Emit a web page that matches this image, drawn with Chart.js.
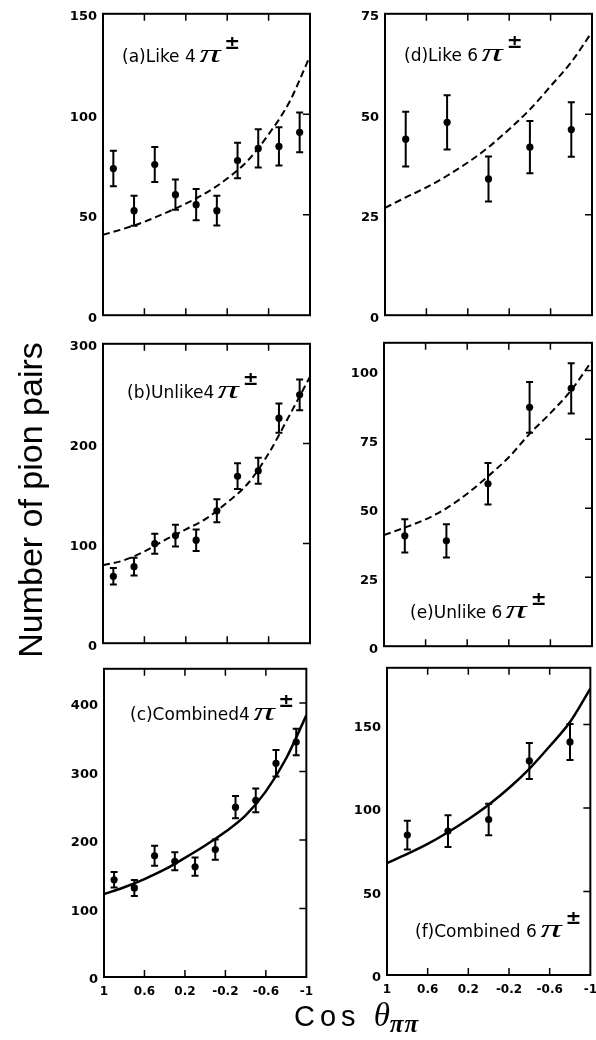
<!DOCTYPE html>
<html>
<head>
<meta charset="utf-8">
<script src="https://cdn.jsdelivr.net/npm/chart.js@4.4.1/dist/chart.umd.min.js"></script>
<style>
html, body { margin: 0; padding: 0; background: #fff; width: 596px; height: 1040px; overflow: hidden; }
#page { position: relative; width: 596px; height: 1040px; }
canvas { position: absolute; }
.lbl { position: absolute; font-family: "DejaVu Sans"; font-size: 17px; line-height: 17px; white-space: nowrap; color: #000; }
.lbl .pi { display: inline-block; font-family: "Liberation Serif"; font-style: italic; font-size: 25px; transform: scaleX(1.7); margin: 0 8px 0 8px; }
.lbl .pm { position: relative; top: -13px; font-size: 19px; font-weight: bold; }
#ytitle { position: absolute; left: 30px; top: 500px; transform: translate(-50%, -50%) rotate(-90deg);
  font-family: "Liberation Sans"; font-size: 34px; white-space: nowrap; color: #000; }
#xtitle { position: absolute; left: 294px; top: 997px; font-family: "Liberation Sans"; font-size: 29px;
  letter-spacing: 5px; white-space: nowrap; color: #000; }
#xtitle .th { font-family: "Liberation Serif"; font-style: italic; font-size: 33px; letter-spacing: 0; }
#xtitle sub { font-family: "Liberation Serif"; font-style: italic; font-weight: bold; font-size: 25px; letter-spacing: 1px; vertical-align: -6px; }
</style>
</head>
<body>
<div id="page">
  <div id="ytitle">Number of pion pairs</div>
  <div id="xtitle">Cos <span class="th">θ</span><sub>ππ</sub></div>
  <div class="lbl" style="left:122px;top:45px">(a)Like 4<span class="pi">π</span><span class="pm">±</span></div>
  <div class="lbl" style="left:404px;top:44px">(d)Like 6<span class="pi">π</span><span class="pm">±</span></div>
  <div class="lbl" style="left:127px;top:381px">(b)Unlike4<span class="pi">π</span><span class="pm">±</span></div>
  <div class="lbl" style="left:410px;top:601px">(e)Unlike 6<span class="pi">π</span><span class="pm">±</span></div>
  <div class="lbl" style="left:130px;top:703px">(c)Combined4<span class="pi">π</span><span class="pm">±</span></div>
  <div class="lbl" style="left:415px;top:920px">(f)Combined 6<span class="pi">π</span><span class="pm">±</span></div>
</div>
<script>
// bin centres (cos theta), fit sample positions and x tick labels
const binsFine = [0.9, 0.7, 0.5, 0.3, 0.1, -0.1, -0.3, -0.5, -0.7, -0.9];
const binsCoarse = [0.8, 0.4, 0, -0.4, -0.8];
const fitX = [1, 0.8, 0.6, 0.4, 0.2, 0, -0.2, -0.4, -0.6, -0.8, -1];
const xTicks = [1, 0.6, 0.2, -0.2, -0.6, -1];
const xTickLabels = ['1', '0.6', '0.2', '-0.2', '-0.6', '-1'];

// (a) like 4pi
const like4Vals = [73, 52, 75, 60, 55, 52, 77, 83, 84, 91];
const like4Err = [8.8, 7.5, 8.7, 7.5, 7.8, 7.4, 8.8, 9.5, 9.5, 9.9];
const like4Fit = [40, 43, 46.5, 50.8, 55.5, 61, 68, 77, 90, 106, 129];
const like4Ticks = [0, 50, 100, 150];

// (b) unlike 4pi
const unlike4Vals = [67, 76.7, 99.7, 107.8, 103.2, 132.7, 167.3, 172.8, 225.5, 248.9];
const unlike4Err = [8.3, 8.9, 10, 10.8, 10.8, 11.5, 12.9, 13.1, 14.7, 15.4];
const unlike4Fit = [78, 83, 92, 103.5, 114, 125, 141, 160, 190, 228, 267];
const unlike4Ticks = [0, 100, 200, 300];

// (c) combined 4pi
const comb4Vals = [142, 130, 177, 169, 161, 186, 248, 258, 312, 343];
const comb4Err = [11.3, 11.6, 14.5, 13.3, 13.3, 14.9, 16.2, 17.3, 19.3, 19.3];
const comb4Fit = [121, 131, 143, 157, 174, 192, 212, 236, 271, 319, 382];
const comb4Ticks = [0, 100, 200, 300, 400];

// (d) like 6pi
const like6Vals = [43.8, 48, 33.9, 41.8, 46.2];
const like6Err = [6.8, 6.75, 5.6, 6.5, 6.8];
const like6Fit = [26.7, 29.3, 31.8, 34.7, 38, 41.8, 46.3, 51.2, 57, 63, 70.5];
const like6Ticks = [0, 25, 50, 75];

// (e) unlike 6pi
const unlike6Vals = [40, 38.2, 58.9, 86.6, 93.5];
const unlike6Err = [6, 6, 7.5, 9.2, 9.1];
const unlike6Fit = [40.3, 43, 46, 50, 55.3, 61.6, 68.5, 77, 84.5, 92.8, 103.5];
const unlike6Ticks = [0, 25, 50, 75, 100];

// (f) combined 6pi
const comb6Vals = [83.8, 86.2, 93.1, 128.2, 139.6];
const comb6Err = [8.6, 9.5, 9.4, 10.8, 10.8];
const comb6Fit = [67, 72.5, 78.5, 85.5, 93.3, 102, 112, 123.5, 137, 151.5, 171.5];
const comb6Ticks = [0, 50, 100, 150];

const panels = [
  { box: [103, 10, 310, 321], yMax: 150, yTicks: like4Ticks, xs: binsFine, vals: like4Vals, errs: like4Err, fit: like4Fit, dashed: true, bottom: false },
  { box: [385, 10, 592, 321], yMax: 75, yTicks: like6Ticks, xs: binsCoarse, vals: like6Vals, errs: like6Err, fit: like6Fit, dashed: true, bottom: false },
  { box: [103, 340, 310, 649], yMax: 300, yTicks: unlike4Ticks, xs: binsFine, vals: unlike4Vals, errs: unlike4Err, fit: unlike4Fit, dashed: true, bottom: false },
  { box: [384, 339, 592, 652], yMax: 110, yTicks: unlike6Ticks, xs: binsCoarse, vals: unlike6Vals, errs: unlike6Err, fit: unlike6Fit, dashed: true, bottom: false },
  { box: [104, 665, 311, 977], yMax: 450, yTicks: comb4Ticks, xs: binsFine, vals: comb4Vals, errs: comb4Err, fit: comb4Fit, dashed: false, bottom: true },
  { box: [387, 664, 595, 975], yMax: 184, yTicks: comb6Ticks, xs: binsCoarse, vals: comb6Vals, errs: comb6Err, fit: comb6Fit, dashed: false, bottom: true }
];

// frame, inward ticks and error bars
const framePlugin = {
  id: 'frame',
  afterDatasetsDraw(chart, args, opts) {
    const { ctx, chartArea: a, scales: { x, y } } = chart;
    ctx.save();
    ctx.strokeStyle = '#000';
    ctx.lineCap = 'butt';

    // error bars
    const meta = chart.getDatasetMeta(1);
    ctx.lineWidth = 2;
    meta.data.forEach((pt, i) => {
      const v = opts.vals[i], e = opts.errs[i];
      const top = y.getPixelForValue(v + e), bot = y.getPixelForValue(v - e);
      ctx.beginPath();
      ctx.moveTo(pt.x, top); ctx.lineTo(pt.x, bot);
      ctx.moveTo(pt.x - 3.5, top); ctx.lineTo(pt.x + 3.5, top);
      ctx.moveTo(pt.x - 3.5, bot); ctx.lineTo(pt.x + 3.5, bot);
      ctx.stroke();
    });

    // inward ticks
    ctx.lineWidth = 1.5;
    ctx.beginPath();
    x.ticks.forEach(t => {
      if (t.value === 1 || t.value === -1) return;
      const px = x.getPixelForValue(t.value);
      ctx.moveTo(px, a.top); ctx.lineTo(px, a.top + 7);
      ctx.moveTo(px, a.bottom); ctx.lineTo(px, a.bottom - 7);
    });
    y.ticks.forEach(t => {
      if (t.value === 0 || t.value >= y.max) return;
      const py = y.getPixelForValue(t.value);
      ctx.moveTo(a.right, py); ctx.lineTo(a.right - 7, py);
    });
    ctx.stroke();

    // frame
    ctx.lineWidth = 2;
    ctx.strokeRect(a.left, a.top, a.right - a.left, a.bottom - a.top);
    ctx.restore();
  }
};

const page = document.getElementById('page');
const yAxisW = 50, padTop = 10, padRight = 10;

panels.forEach(p => {
  const [l, t, r, b] = p.box;
  const bottomSpace = p.bottom ? 24 : 8;
  const cv = document.createElement('canvas');
  const w = (r - l) + yAxisW + padRight;
  const h = (b - t) + padTop + bottomSpace;
  cv.width = w; cv.height = h;
  cv.style.left = (l - yAxisW) + 'px';
  cv.style.top = (t - padTop) + 'px';
  cv.style.width = w + 'px';
  cv.style.height = h + 'px';
  page.insertBefore(cv, page.firstChild);

  new Chart(cv, {
    type: 'scatter',
    data: {
      datasets: [
        {
          type: 'line',
          data: fitX.map((x, i) => ({ x: x, y: p.fit[i] })),
          borderColor: '#000',
          borderWidth: p.dashed ? 2 : 2.5,
          borderDash: p.dashed ? [7, 4] : [],
          pointRadius: 0,
          cubicInterpolationMode: 'monotone',
          fill: false
        },
        {
          data: p.xs.map((x, i) => ({ x: x, y: p.vals[i] })),
          pointRadius: 3.6,
          pointBackgroundColor: '#000',
          pointBorderWidth: 0
        }
      ]
    },
    options: {
      responsive: false,
      animation: false,
      events: [],
      layout: { padding: { top: padTop, right: padRight, left: 0, bottom: 0 } },
      plugins: {
        legend: { display: false },
        tooltip: { enabled: false },
        frame: { vals: p.vals, errs: p.errs }
      },
      scales: {
        x: {
          type: 'linear', min: -1, max: 1, reverse: true,
          grid: { display: false, drawTicks: false }, border: { display: false },
          afterBuildTicks: s => { s.ticks = xTicks.map(v => ({ value: v })); },
          afterFit: s => { s.height = bottomSpace; },
          ticks: {
            display: p.bottom, autoSkip: false, maxRotation: 0, padding: 8, color: '#000',
            font: { family: 'DejaVu Sans', size: 12, weight: 'bold' },
            callback: v => xTickLabels[xTicks.indexOf(v)]
          }
        },
        y: {
          type: 'linear', min: 0, max: p.yMax,
          grid: { display: false, drawTicks: false }, border: { display: false },
          afterBuildTicks: s => { s.ticks = p.yTicks.map(v => ({ value: v })); },
          afterFit: s => { s.width = yAxisW; },
          ticks: {
            padding: 6, labelOffset: 3, color: '#000',
            font: { family: 'DejaVu Sans', size: 13, weight: 'bold' }
          }
        }
      }
    },
    plugins: [framePlugin]
  });
});
</script>
</body>
</html>
